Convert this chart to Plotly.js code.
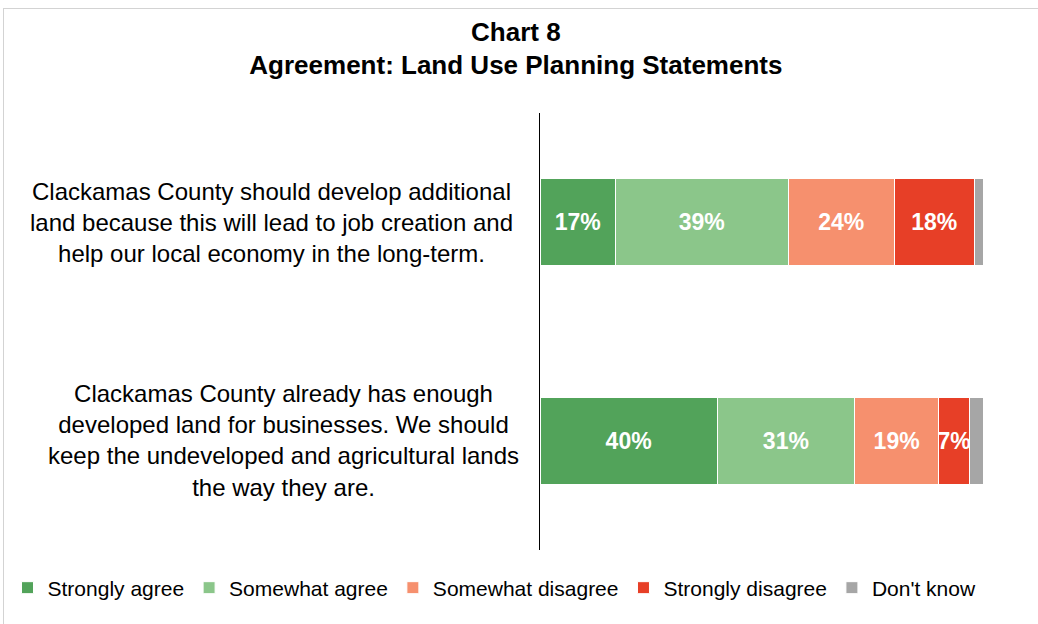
<!DOCTYPE html>
<html>
<head>
<meta charset="utf-8">
<script src="https://cdn.plot.ly/plotly-3.0.1.min.js"></script>
<style>
  html, body { margin: 0; padding: 0; background: #ffffff; overflow: hidden; }
  #frame { position: absolute; left: 3px; top: 8px; width: 1100px; height: 700px; border: 1px solid #d3d3d3; }
  #chart { position: absolute; left: 0; top: 0; width: 1038px; height: 624px; }
</style>
</head>
<body>
<div id="frame"></div>
<div id="chart"></div>
<script>
// ---- data ----
const categories = [
  "Clackamas County should develop additional<br>land because this will lead to job creation and<br>help our local economy in the long-term.",
  "Clackamas County already has enough<br>developed land for businesses. We should<br>keep the undeveloped and agricultural lands<br>the way they are."
];
const seriesNames = ["Strongly agree", "Somewhat agree", "Somewhat disagree", "Strongly disagree", "Don't know"];
const stronglyAgree = [17, 40];
const somewhatAgree = [39, 31];
const somewhatDisagree = [24, 19];
const stronglyDisagree = [18, 7];
const dontKnow = [2, 3];
const showLabel = [true, true, true, true, false];

const colors = ["#52a35a", "#8bc68a", "#f6906e", "#e73f27", "#a6a6a6"];
const seriesValues = [stronglyAgree, somewhatAgree, somewhatDisagree, stronglyDisagree, dontKnow];

const traces = seriesValues.map((vals, i) => ({
  type: 'bar',
  orientation: 'h',
  name: seriesNames[i],
  y: categories,
  x: vals,
  marker: { color: colors[i], line: { color: '#ffffff', width: 1 } },
  text: showLabel[i] ? vals.map(v => v + '%') : vals.map(() => ''),
  textposition: 'inside',
  insidetextanchor: 'middle',
  textangle: 0,
  constraintext: 'none',
  textfont: { family: 'Liberation Sans, Arial, sans-serif', size: 23, color: '#ffffff', weight: 'bold' },
  hoverinfo: 'name+x'
}));

const labelX = [-0.605, -0.58];
const annotations = categories.map((c, i) => ({
  xref: 'paper', yref: 'y',
  x: labelX[i], y: c,
  text: c,
  showarrow: false,
  xanchor: 'center', yanchor: 'middle',
  align: 'center',
  font: { family: 'Liberation Sans, Arial, sans-serif', size: 24, color: '#000000' }
}));

const layout = {
  width: 1038, height: 624,
  paper_bgcolor: 'rgba(0,0,0,0)',
  plot_bgcolor: 'rgba(0,0,0,0)',
  barmode: 'stack',
  bargap: 0.6,
  margin: { l: 540, r: 55, t: 113, b: 74, autoexpand: false },
  title: {
    text: '<b>Chart 8</b><br><b>Agreement: Land Use Planning Statements</b>',
    font: { family: 'Liberation Sans, Arial, sans-serif', size: 26, color: '#000000' },
    x: 0.497, xref: 'container', xanchor: 'center',
    y: 0.935, yref: 'container', yanchor: 'top'
  },
  xaxis: {
    range: [0, 100], showticklabels: false, showgrid: false, zeroline: false,
    showline: false, ticks: '', fixedrange: true
  },
  yaxis: {
    autorange: 'reversed', showticklabels: false, showgrid: false, zeroline: false,
    showline: true, linecolor: '#000000', linewidth: 1.5, ticks: '', fixedrange: true
  },
  showlegend: true,
  legend: {
    orientation: 'h',
    xref: 'paper', x: -1.202, xanchor: 'left',
    y: -0.087, yanchor: 'middle',
    font: { family: 'Liberation Sans, Arial, sans-serif', size: 21, color: '#000000' },
    itemwidth: 30,
    traceorder: 'normal',
    bgcolor: 'rgba(0,0,0,0)'
  },
  annotations: annotations
};

Plotly.newPlot('chart', traces, layout, { displayModeBar: false, staticPlot: true });
</script>
</body>
</html>
